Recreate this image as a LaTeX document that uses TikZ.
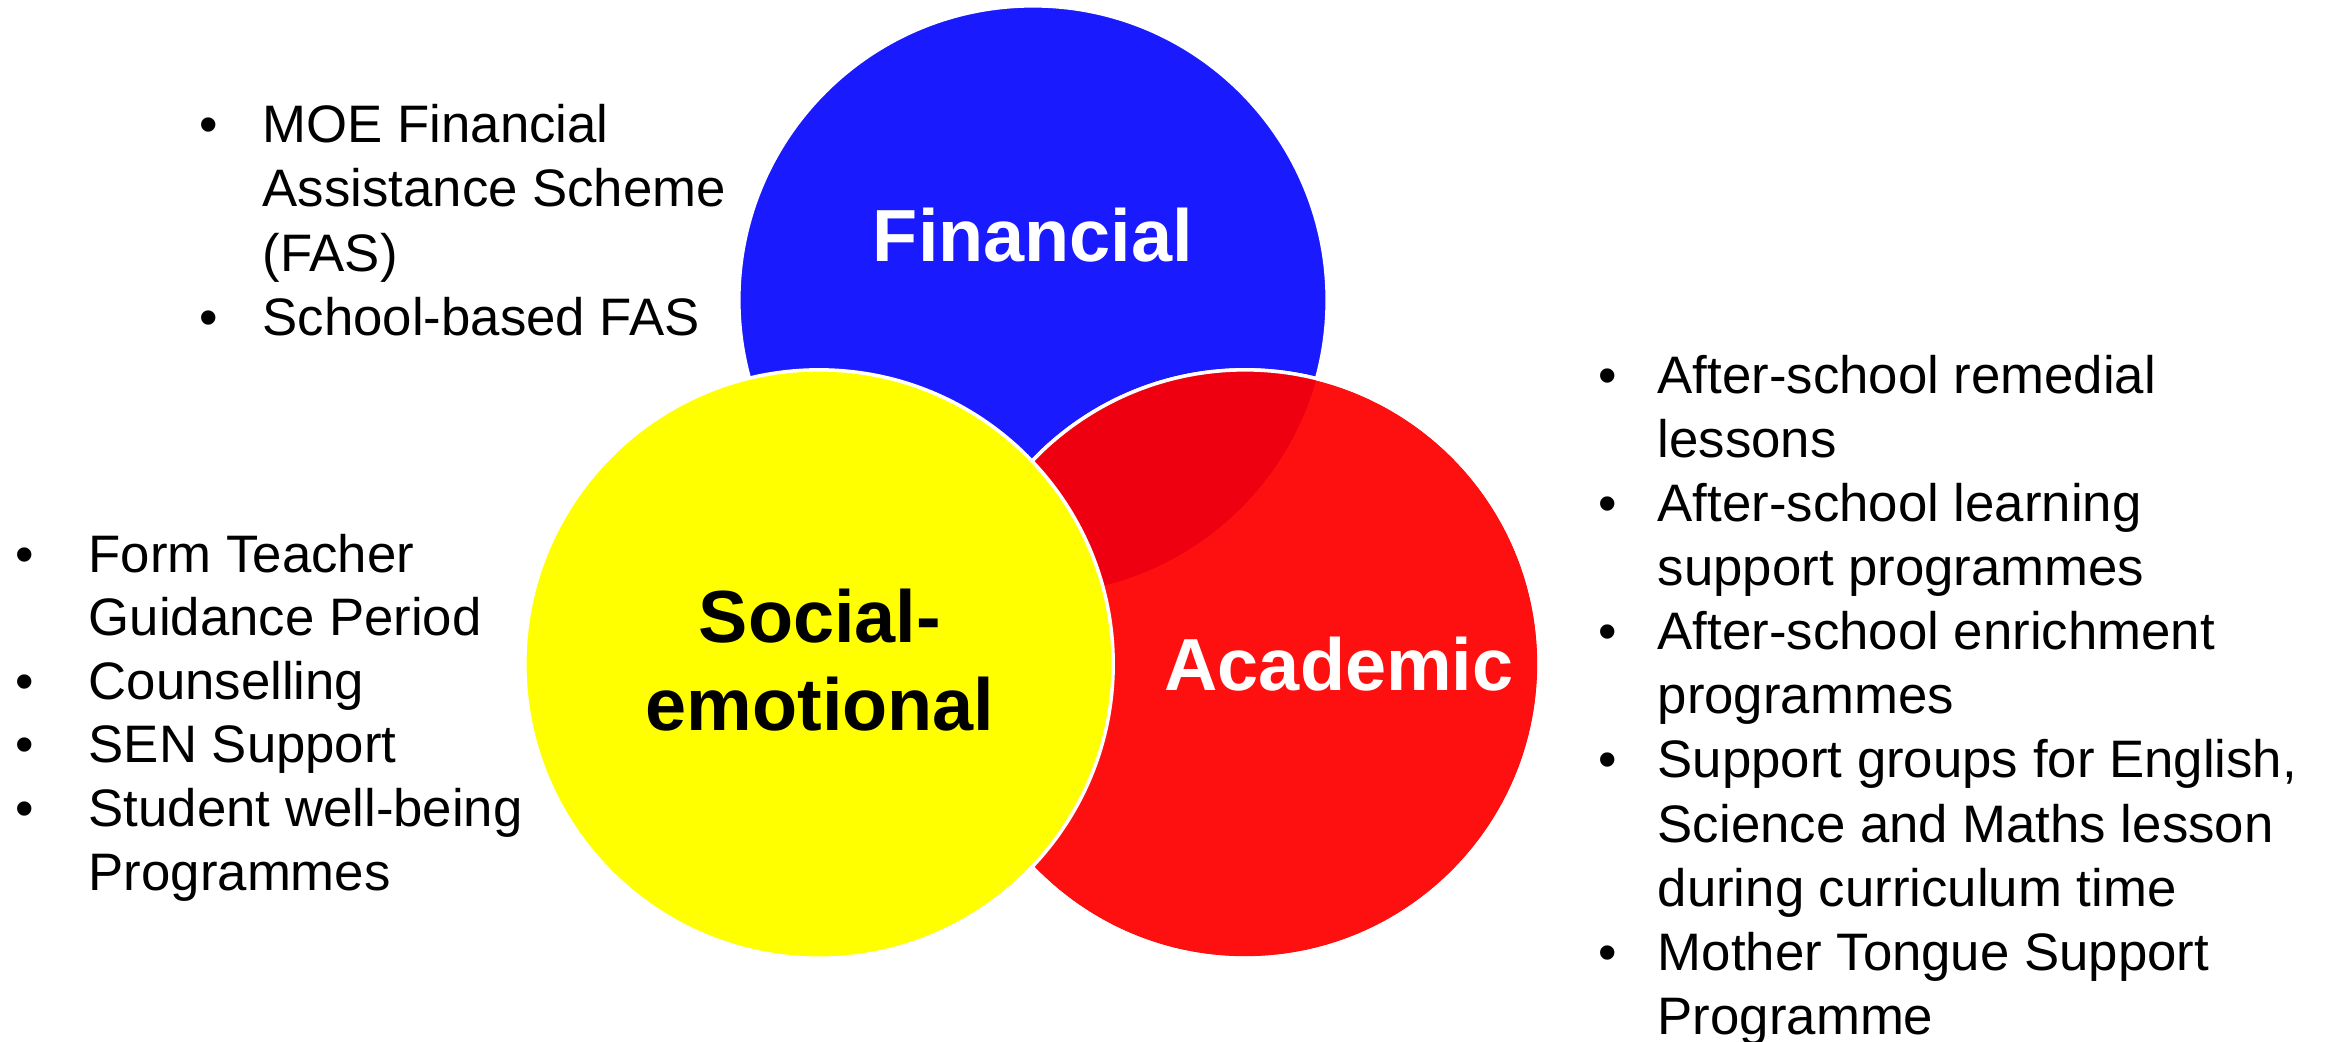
\documentclass[tikz,border=0pt]{standalone}
\usepackage{fontspec}
\setmainfont{Liberation Sans}
\definecolor{finblue}{HTML}{1A1AFF}
\definecolor{acred}{HTML}{FF1010}
\definecolor{ovred}{HTML}{EF0010}
\definecolor{soyel}{HTML}{FFFF00}
\begin{document}
\begin{tikzpicture}[x=0.01cm,y=-0.01cm,
  venn/.style={circle, minimum size=5.88cm, inner sep=0pt, draw=white, line width=1pt},
  title/.style={font=\fontsize{21}{25.3}\selectfont\bfseries, inner sep=0pt, anchor=base},
  list/.style={inner sep=0pt, anchor=base west, align=left}]
\fill[white] (0,0) rectangle (2325,1041);
\useasboundingbox (0,0) rectangle (2325,1041);
% circles
\node[venn, fill=finblue] (fin) at (1033,300) {};
\node[venn, fill=acred] (aca) at (1245,664) {};
\begin{scope}
  \clip (aca.center) circle[radius=2.94cm];
  \fill[ovred] (fin.center) circle[radius=2.94cm];
\end{scope}
\draw[white, line width=1pt] (aca.center) circle[radius=2.94cm];
\node[venn, fill=soyel] (soc) at (819,664) {};
% titles
\node[title, text=white] (fint) at (1033,261) {Financial};
\node[title, text=white] (acat) at (1339,690) {Academic};
\node[title, text=black] (soct) at (820,642)
  {\begin{tabular}[t]{@{}c@{}}Social-\\emotional\end{tabular}};
% lists
\node[list] (finl) at (199,142)
  {\fontsize{15}{18.35}\selectfont
   \begin{tabular}[t]{@{}p{0.63cm}@{}l@{}}
   \textbullet & MOE Financial\\
   & Assistance Scheme\\
   & (FAS)\\
   \textbullet & School-based FAS
   \end{tabular}};
\node[list] (socl) at (15,572)
  {\fontsize{15}{18.1}\selectfont
   \begin{tabular}[t]{@{}p{0.73cm}@{}l@{}}
   \textbullet & Form Teacher\\
   & Guidance Period\\
   \textbullet & Counselling\\
   \textbullet & SEN Support\\
   \textbullet & Student well-being\\
   & Programmes
   \end{tabular}};
\node[list] (acal) at (1598,393)
  {\fontsize{15}{18.24}\selectfont
   \begin{tabular}[t]{@{}p{0.59cm}@{}l@{}}
   \textbullet & After-school remedial\\
   & lessons\\
   \textbullet & After-school learning\\
   & support programmes\\
   \textbullet & After-school enrichment\\
   & programmes\\
   \textbullet & Support groups for English,\\
   & Science and Maths lesson\\
   & during curriculum time\\
   \textbullet & Mother Tongue Support\\
   & Programme
   \end{tabular}};
\end{tikzpicture}
\end{document}
